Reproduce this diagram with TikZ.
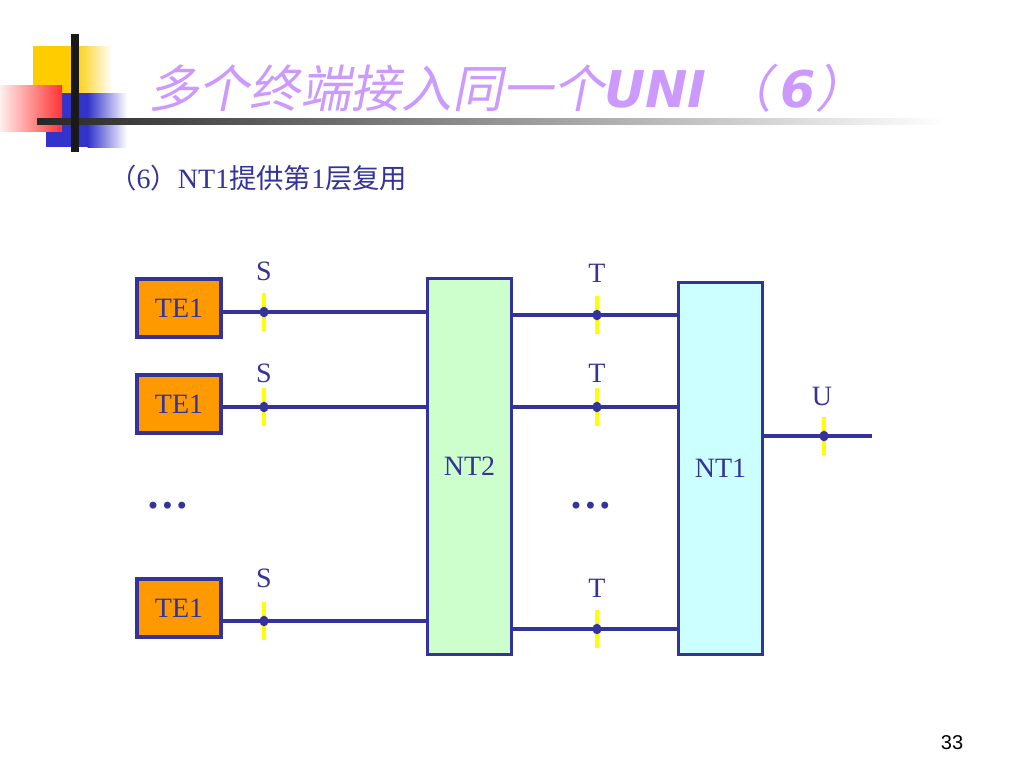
\documentclass[tikz,border=0pt]{standalone}
\usepackage{fontspec}
\setmainfont{Liberation Serif}
\newfontfamily\cjk{Noto Sans CJK SC}
\newfontfamily\titlecjk[FakeSlant=0.2]{Noto Sans CJK SC}
\newfontfamily\titlelat{DejaVu Sans}
\newfontfamily\numfont{Liberation Sans}
\newcommand\lab{\fontsize{21}{24}\selectfont}
\newcommand\zh[1]{{\cjk\fontsize{20.5}{24}\selectfont #1}}
\definecolor{navy}{HTML}{333399}
\definecolor{orangeF}{HTML}{FF9900}
\definecolor{greenF}{HTML}{CCFFCC}
\definecolor{cyanF}{HTML}{CCFFFF}
\definecolor{tickY}{HTML}{FFFF00}
\definecolor{lav}{HTML}{CC99FF}
\definecolor{logoY}{HTML}{FFCC00}
\definecolor{logoB}{HTML}{3333CC}
\definecolor{logoR}{HTML}{FF3333}
\tikzset{
  box/.style={draw=navy, line width=2.9pt, text=navy, font=\lab, inner sep=0pt},
  tebox/.style={box, fill=orangeF, minimum width=63.5pt, minimum height=44pt},
  conn/.style={draw=navy, line width=2.9pt},
  ytick/.style={draw=tickY, line width=2.9pt},
  lbl/.style={text=navy, font=\lab, inner sep=0pt},
  jdot/.style={fill=navy},
  dots/.style={text=navy, font=\bfseries\fontsize{32}{32}\selectfont, inner sep=0pt}
}
\begin{document}
\begin{tikzpicture}[x=0.75pt,y=-0.75pt]
\useasboundingbox (0,0) rectangle (1024,768);
% logo
\fill[logoY] (33,46) rectangle (75,95);
\shade[left color=logoY, right color=white] (74.5,46) rectangle (112,95);
\fill[logoB] (46,93) rectangle (88,147);
\shade[left color=logoB, right color=white] (87.5,93) rectangle (127,147);
\shade[left color=logoR!8, right color=logoR] (0,85) rectangle (62,131);
\shade[left color=black!85, right color=white] (37,118) rectangle (945,124);
\fill[black!90] (71,34) rectangle (79,152);
% title
\node[anchor=west, text=lav, inner sep=0pt, font=\fontsize{38}{40}\selectfont] (title) at (148,88)
  {\titlecjk 多个终端接入同一个{\titlelat\bfseries\itshape UNI}\hspace{0.3em}（\hspace{0.15em}{\titlelat\bfseries\itshape 6}）};
\node[anchor=west, text=navy, inner sep=0pt, font=\lab] (sub) at (109,178)
  {\zh{（}6\zh{）}NT1\zh{提供第}1\zh{层复用}};
% boxes
\node[tebox] (TE1a) at (179,308) {TE1};
\node[tebox] (TE1b) at (179,404) {TE1};
\node[tebox] (TE1c) at (179,608) {TE1};
\node[box, fill=greenF, minimum width=63pt, minimum height=282pt] (NT2) at (469.5,466.5) {NT2};
\node[box, fill=cyanF, minimum width=63pt, minimum height=279pt] (NT1) at (720.5,468.5) {NT1};
% reference points
\coordinate (s1) at (264,312);
\coordinate (s2) at (264,407);
\coordinate (s3) at (264,621);
\coordinate (t1) at (597,315);
\coordinate (t2) at (597,407);
\coordinate (t3) at (597,629);
\coordinate (u) at (824,436);
\coordinate (uend) at (872,436);
% connectors
\draw[conn] (TE1a.east |- s1) -- (NT2.west |- s1);
\draw[conn] (TE1b.east |- s2) -- (NT2.west |- s2);
\draw[conn] (TE1c.east |- s3) -- (NT2.west |- s3);
\draw[conn] (NT2.east |- t1) -- (NT1.west |- t1);
\draw[conn] (NT2.east |- t2) -- (NT1.west |- t2);
\draw[conn] (NT2.east |- t3) -- (NT1.west |- t3);
\draw[conn] (NT1.east |- u) -- (uend);
% ticks and junction dots
\foreach \p in {s1,s2,s3,t1,t2,t3,u}{
  \draw[ytick] ([yshift=14.5pt]\p) -- ([yshift=-14pt]\p);
  \fill[jdot] (\p) ellipse [x radius=3.4pt, y radius=4pt];
}
% labels
\node[lbl] (S1) at (264,271) {S};
\node[lbl] (S2) at (264,373) {S};
\node[lbl] (S3) at (264,578) {S};
\node[lbl] (T1) at (597,273) {T};
\node[lbl] (T2) at (597,373) {T};
\node[lbl] (T3) at (597,588) {T};
\node[lbl] (U) at (822,396) {U};
\node[dots] (d1) at (168,506) {…};
\node[dots] (d2) at (591,506) {…};
\node[font=\numfont\fontsize{15}{18}\selectfont, inner sep=0pt] (pg) at (952,743) {33};
\end{tikzpicture}
\end{document}
